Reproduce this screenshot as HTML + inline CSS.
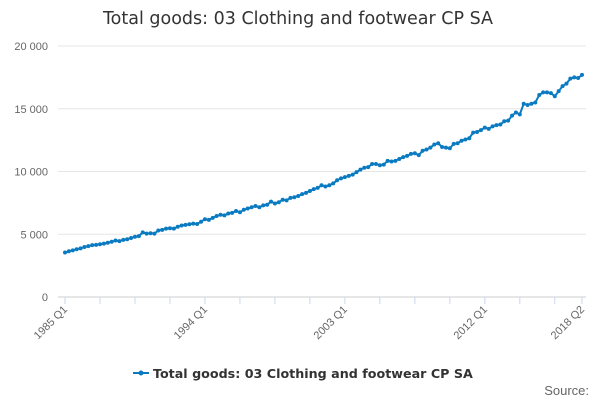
<!DOCTYPE html>
<html><head><meta charset="utf-8"><style>
body{margin:0;background:#fff;font-family:"Liberation Sans",sans-serif}
svg{display:block}
</style></head><body>
<svg id="c" width="600" height="400">
<text x="298" y="24" text-anchor="middle" font-size="17.5" font-family="DejaVu Sans, sans-serif" fill="#333">Total goods: 03 Clothing and footwear CP SA</text>
<g id="grid"></g><g id="axes"></g><g id="series"></g>
<g>
<line x1="133" y1="373" x2="149" y2="373" stroke="#0a7bc1" stroke-width="2"/>
<circle cx="141" cy="373" r="2.5" fill="#0a7bc1"/>
<text x="153" y="378" font-size="12.7" font-family="DejaVu Sans, sans-serif" font-weight="bold" fill="#333">Total goods: 03 Clothing and footwear CP SA</text>
</g>
<text x="589" y="395" text-anchor="end" font-size="13" fill="#666">Source:</text>
</svg>
<script>
const yTicks=[0,5000,10000,15000,20000];
const yTickLabels=["0","5 000","10 000","15 000","20 000"];
const xLabels=["1985 Q1","1994 Q1","2003 Q1","2012 Q1","2018 Q2"];
const xLabelIdx=[0,36,72,108,133];
const values=[3550,3650,3720,3800,3870,3980,4050,4130,4150,4200,4250,4320,4400,4500,4450,4550,4600,4700,4800,4850,
5150,5050,5080,5050,5300,5350,5450,5480,5450,5600,5700,5750,5800,5850,5820,6000,6200,6150,6300,6450,
6550,6500,6650,6700,6850,6750,6950,7050,7150,7250,7150,7300,7350,7600,7450,7550,7750,7700,7900,7950,
8050,8200,8300,8450,8600,8700,8900,8800,8900,9050,9300,9450,9550,9650,9750,9950,10150,10300,10350,10600,
10600,10500,10550,10850,10800,10850,11000,11150,11250,11400,11450,11300,11650,11750,11900,12150,
12250,11950,11900,11850,12200,12250,12450,12550,12650,13100,13150,13300,13500,13400,13600,13700,
13750,14000,14050,14450,14700,14550,15400,15300,15400,15500,16100,16300,16300,16250,16000,16400,
16800,17000,17400,17500,17450,17700];
const NS="http://www.w3.org/2000/svg";
const X0=65,X1=582,Y0=297,Y1=46;
const xs=i=>X0+(X1-X0)*i/(values.length-1);
const ys=v=>Y0-(Y0-Y1)*v/20000;
function mk(t,a,p){const e=document.createElementNS(NS,t);for(const k in a)e.setAttribute(k,a[k]);p.appendChild(e);return e;}
const grid=document.getElementById('grid'),axes=document.getElementById('axes'),ser=document.getElementById('series');
yTicks.forEach((v,i)=>{
 const l=mk('line',{x1:58,x2:586,y1:ys(v),y2:ys(v),stroke:i?'#e6e6e6':'#ccc'},grid);
 
 
 const t=mk('text',{x:48,y:ys(v)+4,'text-anchor':'end','font-size':11,fill:'#666'},axes);
 t.textContent=yTickLabels[i];
 
 
});
for(let i=0;i<values.length;i+=9){
 const tk=mk('line',{x1:xs(i),x2:xs(i),y1:297,y2:304,stroke:'#ccd6eb'},axes);
 
 
}
const tkl=mk('line',{x1:xs(133),x2:xs(133),y1:297,y2:304,stroke:'#ccd6eb'},axes);


xLabels.forEach((s,i)=>{
 const x=xs(xLabelIdx[i]);
 const t=mk('text',{x:x+3,y:310,'text-anchor':'end','font-size':11,fill:'#666',transform:`rotate(-45 ${x+3} 310)`},axes);
 t.textContent=s;
 
 
});
const pl=mk('polyline',{points:values.map((v,i)=>xs(i)+','+ys(v)).join(' '),fill:'none',stroke:'#0a7bc1','stroke-width':2},ser);


values.forEach((v,i)=>{
 const c=mk('circle',{cx:xs(i),cy:ys(v),r:2,fill:'#0a7bc1'},ser);
 
 
});
</script>
</body></html>
